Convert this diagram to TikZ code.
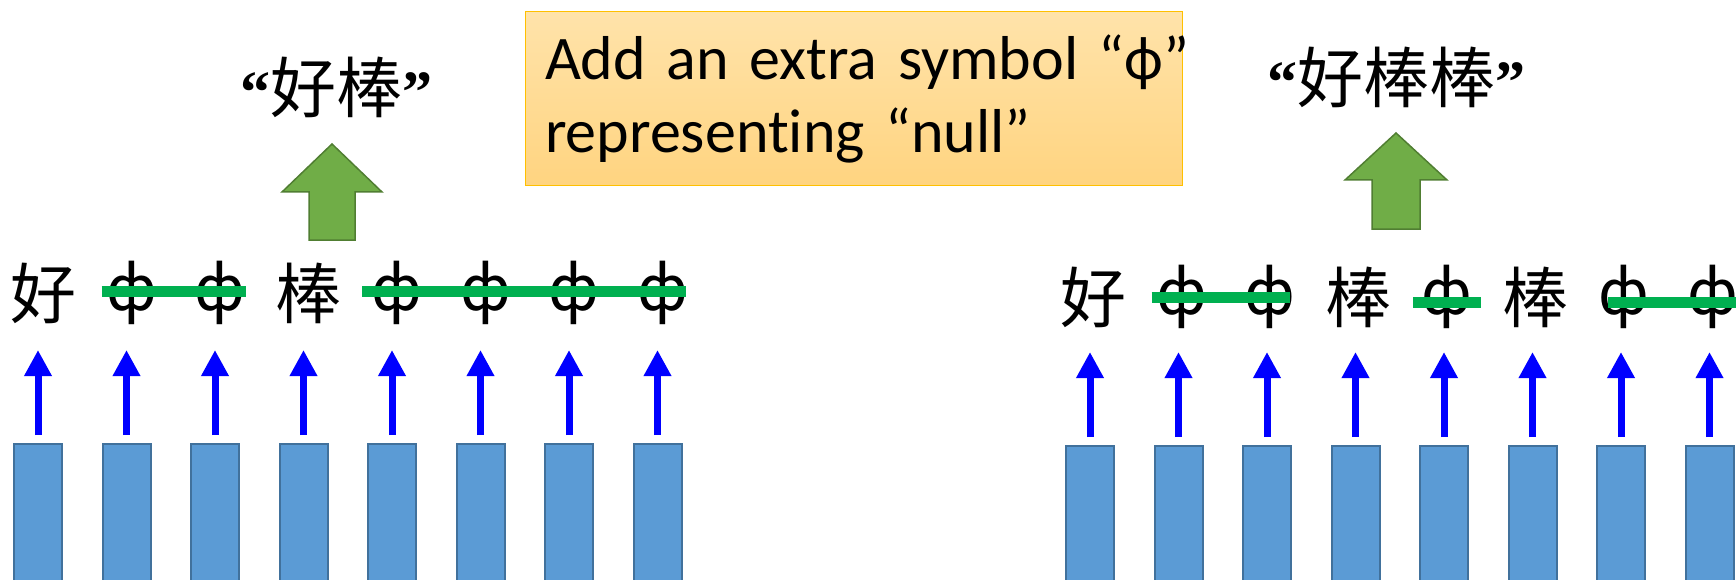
\documentclass[tikz,border=0pt]{standalone}
\usepackage{fontspec}
\setmainfont{Carlito}[Ligatures=NoCommon,WordSpace=0.8]
\newfontfamily\cjk{Noto Sans CJK SC}
\newfontfamily\qfont{Liberation Serif}
\usetikzlibrary{arrows.meta}
\definecolor{cellfill}{HTML}{5B9BD5}
\definecolor{cellborder}{HTML}{41719C}
\definecolor{garrow}{HTML}{70AD47}
\definecolor{garrowborder}{HTML}{507E32}
\definecolor{gbar}{HTML}{00B050}
\definecolor{notetop}{HTML}{FFE3AA}
\definecolor{notebottom}{HTML}{FFD480}
\definecolor{noteborder}{HTML}{FFC000}
\begin{document}
\begin{tikzpicture}[x=1pt,y=-1pt,
  cell/.style={draw=cellborder, fill=cellfill, line width=2pt, minimum width=48pt, minimum height=220pt, inner sep=0pt, anchor=north},
  ch/.style={font=\cjk\fontsize{66}{66}\selectfont, inner sep=0pt, anchor=center},
  phi/.style={font=\cjk\fontsize{62}{62}\selectfont, inner sep=0pt, anchor=center},
  barrow/.style={draw=blue, line width=7pt, -{Triangle[length=26pt,width=26pt]}, shorten <=8pt},
  gline/.style={draw=gbar, line width=11pt},
  blockarr/.style={fill=garrow, draw=garrowborder, line width=1.5pt},
  quote/.style={inner sep=0pt, font=\fontsize{66}{66}\selectfont},
  note/.style={draw=noteborder, line width=1pt, top color=notetop, bottom color=notebottom, minimum width=657pt, minimum height=174pt, text width=617pt, inner xsep=20pt, align=left, font=\fontsize{62}{73}\selectfont}
]
\clip (0,0) rectangle (1736,580);
% left row
\foreach \i/\c/\s in {1/好/ch,2/ф/phi,3/ф/phi,4/棒/ch,5/ф/phi,6/ф/phi,7/ф/phi,8/ф/phi}{
  \node[cell] (bL\i) at ({38+88.5*(\i-1)},443) {};
  \node[\s] (cL\i) at ({43+88.5*(\i-1)},293) {\c};
  \coordinate (tL\i) at ({38+88.5*(\i-1)},350);
  \draw[barrow] (bL\i.north) -- (tL\i);
}
% right row
\foreach \i/\c/\s in {1/好/ch,2/ф/phi,3/ф/phi,4/棒/ch,5/ф/phi,6/棒/ch,7/ф/phi,8/ф/phi}{
  \node[cell] (bR\i) at ({1090+88.5*(\i-1)},445) {};
  \node[\s] (cR\i) at ({1093+88.5*(\i-1)},297) {\c};
  \coordinate (tR\i) at ({1090+88.5*(\i-1)},352);
  \draw[barrow] (bR\i.north) -- (tR\i);
}
% green strike lines
\draw[gline] ([xshift=-30pt,yshift=2pt]cL2.center) -- ([xshift=26pt,yshift=2pt]cL3.center);
\draw[gline] ([xshift=-35pt,yshift=2pt]cL5.center) -- ([xshift=23pt,yshift=2pt]cL8.center);
\draw[gline] ([xshift=-30pt]cR2.center) -- ([xshift=20pt]cR3.center);
\draw[gline] ([xshift=-34pt,yshift=-5pt]cR5.center) -- ([xshift=34pt,yshift=-5pt]cR5.center);
\draw[gline] ([xshift=-16pt,yshift=-5pt]cR7.center) -- ([xshift=30pt,yshift=-5pt]cR8.center);
% outputs
\node[quote] (q1) at (336,87) {{\qfont\bfseries\fontsize{60}{60}\selectfont “}{\cjk 好棒}{\qfont\bfseries\fontsize{60}{60}\selectfont ”}};
\node[quote] (q2) at (1396,77) {{\qfont\bfseries\fontsize{60}{60}\selectfont “}{\cjk 好棒棒}{\qfont\bfseries\fontsize{60}{60}\selectfont ”}};
% block arrows
\draw[blockarr] (332,144) -- (382,192) -- (355,192) -- (355,240) -- (309,240) -- (309,192) -- (282,192) -- cycle;
\draw[blockarr] (1396,133) -- (1447,180) -- (1420,180) -- (1420,229) -- (1372,229) -- (1372,180) -- (1345,180) -- cycle;
% note
\node[note] (note) at (853.5,99) {\mbox{Add an extra symbol “ф”}\\representing “null”};
\end{tikzpicture}
\end{document}
